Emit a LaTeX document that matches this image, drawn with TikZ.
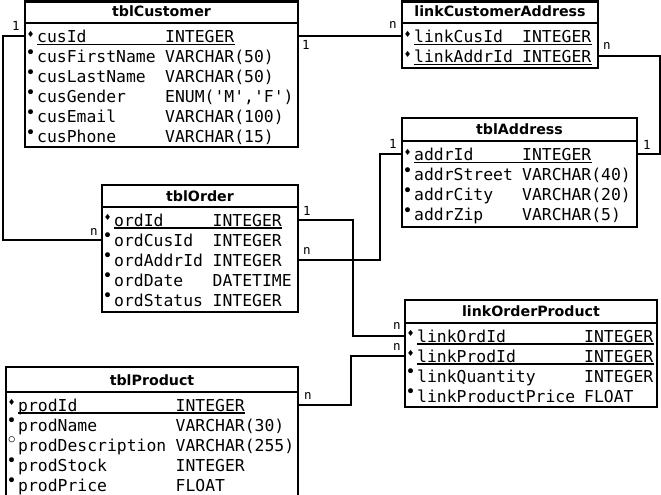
\documentclass[tikz,border=0pt]{standalone}
\usepackage{fontspec}
\setmonofont{DejaVu Sans Mono}
\setsansfont{DejaVu Sans}
\newfontfamily\symfont{DejaVu Sans}
\newcommand\pkglyph{{\fontsize{8.5}{8.5}\selectfont ♦}}
\newcommand\reqglyph{{\fontsize{17}{17}\selectfont •}}
\newcommand\optglyph{{\fontsize{21}{21}\selectfont ◦}}
\tikzset{
  tblbox/.style={draw, line width=2.5pt, inner sep=0pt, outer sep=0pt, anchor=north west},
  hdrline/.style={line width=2.5pt},
  hdr/.style={font=\sffamily\bfseries\fontsize{14.2}{14}\selectfont, anchor=base, inner sep=0pt},
  fld/.style={font=\ttfamily\fontsize{16.4}{16}\selectfont, anchor=base west, inner sep=0pt, text height=13pt, text depth=0pt},
  bul/.style={font=\symfont, inner sep=0pt, anchor=center},
  pkline/.style={line width=1.2pt},
  conn/.style={line width=2pt},
  card/.style={font=\ttfamily\fontsize{12.5}{12}\selectfont, inner sep=0pt}
}
\newcommand\fldrow[7]{%
  \node[fld] (#1) at (#2,#3) {#5};
  \node[fld] (#1T) at (#6,#3) {#7};
  \node[bul] (#1B) at ({#2-6.3},{#3-8.5}) {#4};
}
\newcommand\pkrow[6]{%
  \fldrow{#1}{#2}{#3}{\pkglyph}{#4}{#5}{#6}
  \draw[pkline] ([yshift=-2pt]#1.base west) -- ([yshift=-2pt]#1T.base east);
}
\begin{document}
\begin{tikzpicture}[x=1pt,y=-1pt]
\useasboundingbox (0,0) rectangle (661,495);
\clip (0,0) rectangle (661,495);

% ---------- tblCustomer ----------
\node[tblbox, minimum width=273pt, minimum height=145.5pt] (cust) at (25,1.5) {};
\draw[hdrline] (cust.west |- 0,23) -- (cust.east |- 0,23);
\node[hdr] (custH) at (161.5,17) {tblCustomer};
\pkrow{cusId}{37}{42.5}{cusId}{165}{INTEGER}
\fldrow{cusFirstName}{37}{62.5}{\reqglyph}{cusFirstName}{165}{VARCHAR(50)}
\fldrow{cusLastName}{37}{82.5}{\reqglyph}{cusLastName}{165}{VARCHAR(50)}
\fldrow{cusGender}{37}{102.5}{\reqglyph}{cusGender}{165}{ENUM('M','F')}
\fldrow{cusEmail}{37}{122.5}{\reqglyph}{cusEmail}{165}{VARCHAR(100)}
\fldrow{cusPhone}{37}{142.5}{\reqglyph}{cusPhone}{165}{VARCHAR(15)}

% ---------- linkCustomerAddress ----------
\node[tblbox, minimum width=196pt, minimum height=66.5pt] (lca) at (402,1.5) {};
\draw[hdrline] (lca.west |- 0,23) -- (lca.east |- 0,23);
\node[hdr] (lcaH) at (500,17) {linkCustomerAddress};
\pkrow{linkCusId}{414}{42.5}{linkCusId}{522}{INTEGER}
\pkrow{linkAddrId}{414}{62.5}{linkAddrId}{522}{INTEGER}

% ---------- tblAddress ----------
\node[tblbox, minimum width=235pt, minimum height=109pt] (addr) at (402,118) {};
\draw[hdrline] (addr.west |- 0,141) -- (addr.east |- 0,141);
\node[hdr] (addrH) at (519.5,134.5) {tblAddress};
\pkrow{addrId}{414}{160.5}{addrId}{522}{INTEGER}
\fldrow{addrStreet}{414}{180.5}{\reqglyph}{addrStreet}{522}{VARCHAR(40)}
\fldrow{addrCity}{414}{200.5}{\reqglyph}{addrCity}{522}{VARCHAR(20)}
\fldrow{addrZip}{414}{220.5}{\reqglyph}{addrZip}{522}{VARCHAR(5)}

% ---------- tblOrder ----------
\node[tblbox, minimum width=196pt, minimum height=127pt] (ord) at (102,185) {};
\draw[hdrline] (ord.west |- 0,207) -- (ord.east |- 0,207);
\node[hdr] (ordH) at (200,201) {tblOrder};
\pkrow{ordId}{114}{226}{ordId}{212.5}{INTEGER}
\fldrow{ordCusId}{114}{246}{\reqglyph}{ordCusId}{212.5}{INTEGER}
\fldrow{ordAddrId}{114}{266}{\reqglyph}{ordAddrId}{212.5}{INTEGER}
\fldrow{ordDate}{114}{286}{\reqglyph}{ordDate}{212.5}{DATETIME}
\fldrow{ordStatus}{114}{306}{\reqglyph}{ordStatus}{212.5}{INTEGER}

% ---------- linkOrderProduct ----------
\node[tblbox, minimum width=252pt, minimum height=107pt] (lop) at (405,300) {};
\draw[hdrline] (lop.west |- 0,323) -- (lop.east |- 0,323);
\node[hdr] (lopH) at (531,316.5) {linkOrderProduct};
\pkrow{linkOrdId}{417}{342}{linkOrdId}{584}{INTEGER}
\pkrow{linkProdId}{417}{362}{linkProdId}{584}{INTEGER}
\fldrow{linkQuantity}{417}{382}{\reqglyph}{linkQuantity}{584}{INTEGER}
\fldrow{linkProductPrice}{417}{402}{\reqglyph}{linkProductPrice}{584}{FLOAT}

% ---------- tblProduct ----------
\node[tblbox, minimum width=292pt, minimum height=135pt] (prod) at (6,367) {};
\draw[hdrline] (prod.west |- 0,392) -- (prod.east |- 0,392);
\node[hdr] (prodH) at (152,385) {tblProduct};
\pkrow{prodId}{18}{411}{prodId}{175.5}{INTEGER}
\fldrow{prodName}{18}{431}{\reqglyph}{prodName}{175.5}{VARCHAR(30)}
\fldrow{prodDescription}{18}{451}{\optglyph}{prodDescription}{175.5}{VARCHAR(255)}
\fldrow{prodStock}{18}{471}{\reqglyph}{prodStock}{175.5}{INTEGER}
\fldrow{prodPrice}{18}{491}{\reqglyph}{prodPrice}{175.5}{FLOAT}

% ---------- connectors ----------
\draw[conn] (cust.west |- cusId) -- ++(-22,0) |- (ord.west |- ordCusId);
\draw[conn] (cust.east |- cusId) -- (lca.west |- linkCusId);
\draw[conn] (lca.east |- linkAddrId) -- ++(62,0) |- (addr.east |- addrId);
\draw[conn] (addr.west |- addrId) -- ++(-22,0) |- (ord.east |- ordAddrId);
\draw[conn] (ord.east |- ordId) -- ++(55,0) |- (lop.west |- linkOrdId);
\draw[conn] (prod.east |- prodId) -- ++(53,0) |- (lop.west |- linkProdId);

% ---------- cardinalities ----------
\node[card] (c1) at (16,26) {1};
\node[card] (c2) at (94,232) {n};
\node[card] (c3) at (306,45) {1};
\node[card] (c4) at (393,25) {n};
\node[card] (c5) at (607,46) {n};
\node[card] (c6) at (647,145) {1};
\node[card] (c7) at (393,144) {1};
\node[card] (c8) at (307,251) {n};
\node[card] (c9) at (307,211) {1};
\node[card] (c10) at (397,326) {n};
\node[card] (c11) at (397,347) {n};
\node[card] (c12) at (308,396) {n};
\end{tikzpicture}
\end{document}
